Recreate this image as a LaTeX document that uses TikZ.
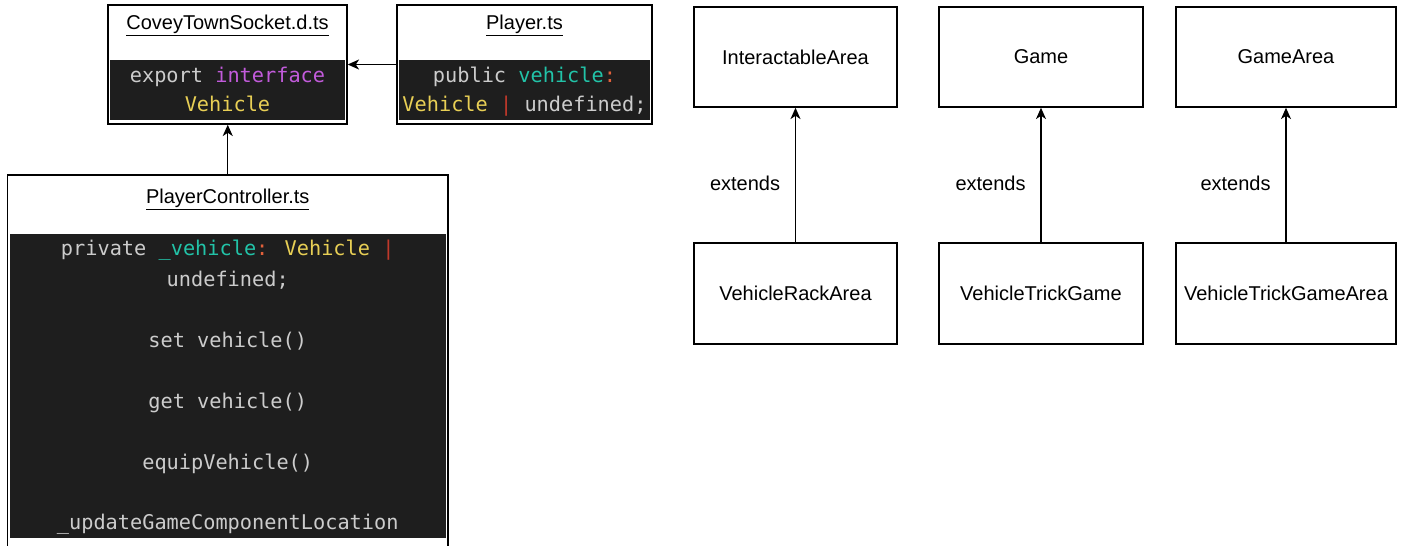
\documentclass[tikz,border=0pt]{standalone}
\usepackage{fontspec}
\setmainfont{Liberation Sans}
\newfontfamily\codefont{DejaVu Sans Mono}
\usetikzlibrary{arrows.meta}
\definecolor{codebg}{HTML}{1E1E1E}
\definecolor{codefg}{HTML}{CCCCCC}
\definecolor{kwpurple}{HTML}{C25BDB}
\definecolor{cteal}{HTML}{22C3A8}
\definecolor{cyellow}{HTML}{E8CF55}
\definecolor{ccolon}{HTML}{E2603A}
\definecolor{cbar}{HTML}{C0392B}
\begin{document}
\begin{tikzpicture}[x=0.75pt,y=-0.75pt,
  box/.style={draw=black, line width=1.1pt, fill=white, inner sep=0pt, rectangle,
    font=\fontsize{15}{18}\selectfont},
  band/.style={fill=codebg, draw=none, inner sep=0pt, rectangle},
  title/.style={anchor=base, inner sep=0pt, font=\fontsize{15}{18}\selectfont},
  code/.style={anchor=base, inner sep=0pt, text=codefg, font=\codefont\fontsize{15.2}{18}\selectfont},
  lbl/.style={anchor=east, inner sep=0pt, xshift=-11pt, font=\fontsize{15}{18}\selectfont},
  arr/.style={line width=1.1pt, -{Stealth[length=8.5pt,width=7.5pt,inset=2.5pt]}}
]
\useasboundingbox (0,0) rectangle (1403,546);
\clip (0,0) rectangle (1403,546);

% CoveyTownSocket.d.ts
\node[box, minimum width=179.25pt, minimum height=89.25pt] (sock) at (227.5,64.5) {};
\node[band, minimum width=176.25pt, minimum height=45pt] (sockband) at (227.5,90) {};
\node[title] (socktitle) at (227.5,29) {\underline{CoveyTownSocket.d.ts}};
\node[code] (sock1) at (227.5,82) {export \textcolor{kwpurple}{interface}};
\node[code] (sock2) at (227.5,111) {\textcolor{cyellow}{Vehicle}};

% Player.ts
\node[box, minimum width=191.25pt, minimum height=89.25pt] (pl) at (524.5,64.5) {};
\node[band, minimum width=188.25pt, minimum height=45pt] (plband) at (524.5,90) {};
\node[title] (pltitle) at (524.5,29) {\underline{Player.ts}};
\node[code] (pl1) at (524.5,82) {public \textcolor{cteal}{vehicle}\textcolor{ccolon}{:}};
\node[code] (pl2) at (524.5,111) {\textcolor{cyellow}{Vehicle} \textcolor{cbar}{|} undefined;};

% PlayerController.ts
\node[box, minimum width=330.375pt, minimum height=288.75pt] (ctrl) at (227.75,367.5) {};
\node[band, minimum width=327.375pt, minimum height=228pt] (ctrlband) at (227.75,386) {};
\node[title] (ctrltitle) at (227.75,203) {\underline{PlayerController.ts}};
\node[code] (c1) at (227.75,255) {private \textcolor{cteal}{\_vehicle}\textcolor{ccolon}{:} \textcolor{cyellow}{Vehicle} \textcolor{cbar}{|}};
\node[code] (c2) at (227.75,286) {undefined;};
\node[code] (c3) at (227.75,347) {set vehicle()};
\node[code] (c4) at (227.75,408) {get vehicle()};
\node[code] (c5) at (227.75,469) {equipVehicle()};
\node[code] (c6) at (227.75,529) {\_updateGameComponentLocation};

\draw[arr] (pl.west) -- (sock.east);
\draw[arr] (ctrl.north) -- (ctrl.north |- sock.south);

% right side
\node[box, minimum width=152.25pt, minimum height=75pt] (ia) at (795.5,57) {InteractableArea};
\node[box, minimum width=153pt, minimum height=75pt] (game) at (1041,57) {Game};
\node[box, minimum width=165pt, minimum height=75pt] (garea) at (1286,57) {GameArea};
\node[box, minimum width=152.25pt, minimum height=75.75pt] (vra) at (795.5,293.5) {VehicleRackArea};
\node[box, minimum width=153pt, minimum height=75.75pt] (vtg) at (1041,293.5) {VehicleTrickGame};
\node[box, minimum width=165pt, minimum height=75.75pt] (vtga) at (1286,293.5) {VehicleTrickGameArea};

\draw[arr] (vra) -- (ia) node[lbl, pos=0.44] (ext1) {extends};
\draw[arr] (vtg) -- (game) node[lbl, pos=0.44] (ext2) {extends};
\draw[arr] (vtga) -- (garea) node[lbl, pos=0.44] (ext3) {extends};
\end{tikzpicture}
\end{document}
